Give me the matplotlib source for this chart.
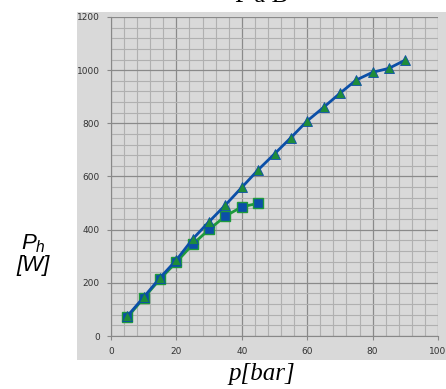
import matplotlib.pyplot as plt
from matplotlib.patches import Rectangle
from matplotlib.ticker import MultipleLocator

plt.rcParams['mathtext.fontset'] = 'custom'
plt.rcParams['mathtext.it'] = 'Liberation Sans:italic'
plt.rcParams['mathtext.rm'] = 'Liberation Sans'

# data
p_tri = [5, 10, 15, 20, 25, 30, 35, 40, 45, 50, 55, 60, 65, 70, 75, 80, 85, 90]
ph_tri = [75, 146, 219, 286, 365, 430, 493, 559, 625, 685, 746, 809, 860, 913, 963, 992, 1007, 1038]
p_sq = [5, 10, 15, 20, 25, 30, 35, 40, 45]
ph_sq = [70, 143, 214, 278, 345, 401, 451, 486, 499]

xticks = [0, 20, 40, 60, 80, 100]
yticks = [0, 200, 400, 600, 800, 1000, 1200]

W, H = 446, 389
fig = plt.figure(figsize=(W / 100, H / 100), dpi=100)

panel = '#d9d9d9'
fig.patches.append(Rectangle((77 / W, 1 - 360 / H), 1, (360 - 12) / H,
                             transform=fig.transFigure, facecolor=panel,
                             edgecolor='none', zorder=-5))

ax = fig.add_axes([111 / W, 1 - 336 / H, (438 - 111) / W, (336 - 17) / H])
ax.set_facecolor(panel)

ax.plot(p_sq, ph_sq, color='#1e9a3c', lw=2, marker='s', ms=6.5,
        markerfacecolor='#0b4fa8', markeredgecolor='#1e9a3c', mew=1, zorder=3)
ax.plot(p_tri, ph_tri, color='#0b4fa8', lw=2, marker='^', ms=6.5,
        markerfacecolor='#1e8c3a', markeredgecolor='#0b4fa8', mew=0.6, zorder=4)

ax.set_xlim(0, 100)
ax.set_ylim(0, 1200)
ax.set_xticks(xticks)
ax.set_yticks(yticks)
ax.xaxis.set_minor_locator(MultipleLocator(4))
ax.yaxis.set_minor_locator(MultipleLocator(40))
ax.grid(which='major', color='#8a8a8a', lw=0.9)
ax.grid(which='minor', color='#b0b0b0', lw=0.8)
ax.set_axisbelow(True)
for s in ['top', 'right']:
    ax.spines[s].set_visible(False)
for s in ['left', 'bottom']:
    ax.spines[s].set_color('#888888')
ax.tick_params(which='major', labelsize=6.5, labelcolor='#333333', length=3,
               color='#888888', pad=5)
ax.tick_params(which='minor', length=0)

fig.text(33 / W, 1 - 254 / H, '$P_h$\n[W]', fontsize=16, style='italic',
         family='Liberation Sans', ha='center', va='center', linespacing=1.0)
fig.text(262 / W, 1 - 374 / H, 'p[bar]', fontsize=18, style='italic',
         family='Liberation Serif', ha='center', va='center')
fig.text(262 / W, 1 - 2 / H, 'P à B', fontsize=18,
         family='Liberation Serif', ha='center', va='baseline')

fig.savefig('out.png', dpi=100)
